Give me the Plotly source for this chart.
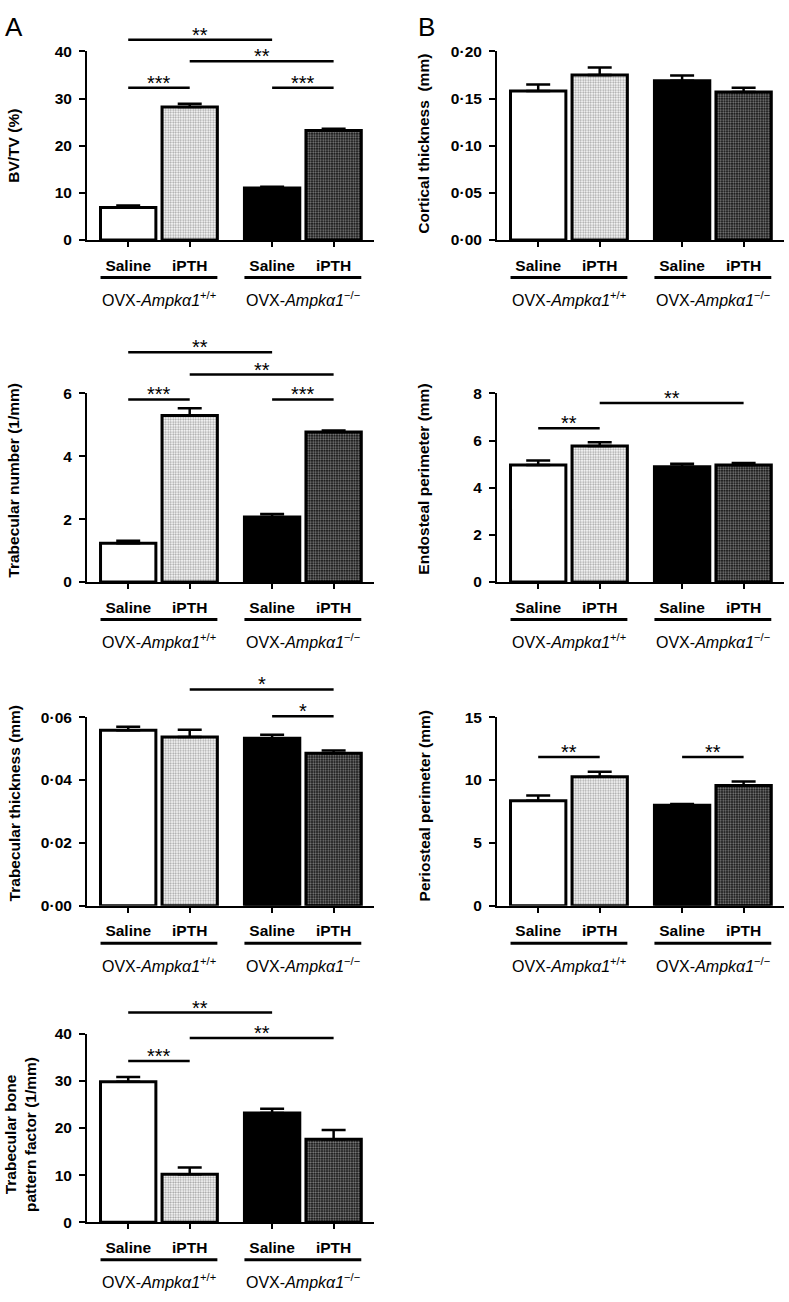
import plotly.graph_objects as go

# ---------------- data ----------------
treatments = ["Saline", "iPTH", "Saline", "iPTH"]
genotypes = ["OVX-<i>Ampkα1</i><sup>+/+</sup>", "OVX-<i>Ampkα1</i><sup>−/−</sup>"]
bar_pos = [0.0, 1.0, 2.34, 3.34]

bvtv = [6.9, 28.2, 11.0, 23.2]
bvtv_err = [0.4, 0.7, 0.3, 0.4]

cort_th = [0.158, 0.175, 0.169, 0.157]
cort_th_err = [0.007, 0.008, 0.0055, 0.0046]

tb_n = [1.23, 5.30, 2.07, 4.77]
tb_n_err = [0.08, 0.23, 0.09, 0.05]

endo = [4.96, 5.77, 4.89, 4.96]
endo_err = [0.19, 0.16, 0.12, 0.09]

tb_th = [0.0558, 0.0537, 0.0533, 0.0485]
tb_th_err = [0.0011, 0.0023, 0.0011, 0.0009]

peri = [8.35, 10.26, 7.98, 9.55]
peri_err = [0.42, 0.39, 0.11, 0.32]

tbpf = [29.8, 10.2, 23.2, 17.6]
tbpf_err = [1.0, 1.4, 0.9, 2.0]

# significance brackets: (bar i, bar j, height in data units, label)
bvtv_sig = [(0, 2, 42.5, "**"), (1, 3, 37.9, "**"), (0, 1, 32.3, "***"), (2, 3, 32.3, "***")]
tb_n_sig = [(0, 2, 7.31, "**"), (1, 3, 6.60, "**"), (0, 1, 5.81, "***"), (2, 3, 5.81, "***")]
tb_th_sig = [(1, 3, 0.0688, "*"), (2, 3, 0.0603, "*")]
tbpf_sig = [(0, 2, 44.5, "**"), (1, 3, 39.1, "**"), (0, 1, 34.2, "***")]
endo_sig = [(0, 1, 6.52, "**"), (1, 3, 7.59, "**")]
peri_sig = [(0, 1, 11.83, "**"), (2, 3, 11.83, "**")]

dec_ticks_a = [0, 10, 20, 30, 40]
cort_ticks = [0, 0.05, 0.10, 0.15, 0.20]
cort_ticktext = ["0·00", "0·05", "0·10", "0·15", "0·20"]
tb_n_ticks = [0, 2, 4, 6]
endo_ticks = [0, 2, 4, 6, 8]
tb_th_ticks = [0, 0.02, 0.04, 0.06]
tb_th_ticktext = ["0·00", "0·02", "0·04", "0·06"]
peri_ticks = [0, 5, 10, 15]

panels = [
    dict(title="BV/TV (%)", vals=bvtv, errs=bvtv_err, ymax=40, tv=dec_ticks_a,
         tt=[str(v) for v in dec_ticks_a], sig=bvtv_sig, col=0, row=0, tshift=0),
    dict(title="Cortical thickness  (mm)", vals=cort_th, errs=cort_th_err, ymax=0.20, tv=cort_ticks,
         tt=cort_ticktext, sig=[], col=1, row=0, tshift=2),
    dict(title="Trabecular number (1/mm)", vals=tb_n, errs=tb_n_err, ymax=6, tv=tb_n_ticks,
         tt=[str(v) for v in tb_n_ticks], sig=tb_n_sig, col=0, row=1, tshift=7),
    dict(title="Endosteal perimeter (mm)", vals=endo, errs=endo_err, ymax=8, tv=endo_ticks,
         tt=[str(v) for v in endo_ticks], sig=endo_sig, col=1, row=1, tshift=8),
    dict(title="Trabecular thickness (mm)", vals=tb_th, errs=tb_th_err, ymax=0.06, tv=tb_th_ticks,
         tt=tb_th_ticktext, sig=tb_th_sig, col=0, row=2, tshift=8),
    dict(title="Periosteal perimeter (mm)", vals=peri, errs=peri_err, ymax=15, tv=peri_ticks,
         tt=[str(v) for v in peri_ticks], sig=peri_sig, col=1, row=2, tshift=5),
    dict(title="Trabecular bone<br>pattern factor (1/mm)", vals=tbpf, errs=tbpf_err, ymax=40, tv=dec_ticks_a,
         tt=[str(v) for v in dec_ticks_a], sig=tbpf_sig, col=0, row=3, tshift=-7),
]

# ---------------- styling / layout ----------------
W, H = 789, 1302
FONT = "Liberation Sans, Arial, Helvetica, sans-serif"
col_axis_px = [87, 497]
row_px = [(43, 234), (389.5, 580.5), (717.5, 908.5), (1038.3, 1229.3)]
unit_px = 61.5
xr = [-0.67, 4.0]
plot_w = (xr[1] - xr[0]) * unit_px
bar_w = 0.9

fill = ["white", "white", "black", "#0c0c0c"]
pat_shape = ["", ".", "", "."]
pat_fg = ["white", "#a8a8a8", "black", "#3e3e3e"]
pat_bg = ["white", "white", "black", "#0c0c0c"]

fig = go.Figure()
layout = dict(width=W, height=H, margin=dict(l=0, r=0, t=0, b=0),
              paper_bgcolor="white", plot_bgcolor="white", showlegend=False,
              font=dict(family=FONT, color="black"), bargap=0)
shapes = []
annotations = []

for k, p in enumerate(panels, start=1):
    xa = "x" if k == 1 else f"x{k}"
    ya = "y" if k == 1 else f"y{k}"
    axpx = col_axis_px[p["col"]]
    top, bot = row_px[p["row"]]
    plot_h = bot - top

    fig.add_trace(go.Bar(
        x=bar_pos, y=p["vals"], width=bar_w, xaxis=xa, yaxis=ya,
        marker=dict(color=fill, line=dict(color="black", width=3),
                    pattern=dict(shape=pat_shape, fgcolor=pat_fg, bgcolor=pat_bg,
                                 size=2.5, solidity=0.45)),
        error_y=dict(type="data", symmetric=False, array=p["errs"], arrayminus=[0] * 4,
                     color="black", thickness=2.5, width=12),
        hoverinfo="skip",
    ))

    layout["xaxis" if k == 1 else f"xaxis{k}"] = dict(
        domain=[axpx / W, (axpx + plot_w) / W], range=xr, anchor=ya,
        tickmode="array", tickvals=bar_pos, ticktext=treatments,
        ticks="outside", ticklen=5, tickwidth=2, tickcolor="black",
        showline=True, linecolor="black", linewidth=2, showgrid=False, zeroline=False,
        tickfont=dict(family=FONT, size=15.5, color="black", weight="bold"),
        ticklabelstandoff=5, fixedrange=True)
    layout["yaxis" if k == 1 else f"yaxis{k}"] = dict(
        domain=[1 - bot / H, 1 - top / H], range=[0, p["ymax"]], anchor=xa,
        tickmode="array", tickvals=p["tv"], ticktext=p["tt"],
        ticks="outside", ticklen=6, tickwidth=2, tickcolor="black",
        showline=True, linecolor="black", linewidth=2, showgrid=False, zeroline=False,
        tickfont=dict(family=FONT, size=15.5, color="black", weight="bold"),
        ticklabelstandoff=4, fixedrange=True)

    # y title
    annotations.append(dict(
        text=p["title"], textangle=-90, xref="paper", yref=f"{ya} domain",
        x=(axpx - 73 + (7 if "<br>" in p["title"] else 0)) / W, y=0.5, yshift=p["tshift"],
        xanchor="center", yanchor="middle", showarrow=False,
        font=dict(family=FONT, size=15.5, color="black", weight="bold")))

    # genotype group underline + label
    groups_idx = [(0, 1), (2, 3)]
    for gi, (a, b) in enumerate(groups_idx):
        shapes.append(dict(type="line", xref=xa, yref=f"{ya} domain",
                           x0=bar_pos[a] - bar_w / 2, x1=bar_pos[b] + bar_w / 2,
                           y0=-38 / plot_h, y1=-38 / plot_h,
                           line=dict(color="black", width=3)))
        annotations.append(dict(
            text=genotypes[gi], xref=xa, yref=f"{ya} domain",
            x=(bar_pos[a] + bar_pos[b]) / 2, y=-60 / plot_h,
            xanchor="center", yanchor="middle", showarrow=False,
            font=dict(family=FONT, size=16, color="black")))

    # significance brackets
    for (i, j, h, lab) in p["sig"]:
        yd = h / p["ymax"]
        shapes.append(dict(type="line", xref=xa, yref=f"{ya} domain",
                           x0=bar_pos[i], x1=bar_pos[j], y0=yd, y1=yd,
                           line=dict(color="black", width=2.5)))
        annotations.append(dict(
            text=lab, xref=xa, yref=f"{ya} domain", x=(bar_pos[i] + bar_pos[j]) / 2, y=yd,
            xanchor="center", yanchor="middle", yshift=5, showarrow=False,
            font=dict(family=FONT, size=20, color="black")))

# panel letters
annotations.append(dict(text="A", xref="paper", yref="paper", x=3 / W, y=1 - 1 / H,
                        xanchor="left", yanchor="top", showarrow=False,
                        font=dict(family=FONT, size=26, color="black")))
annotations.append(dict(text="B", xref="paper", yref="paper", x=416 / W, y=1 - 1 / H,
                        xanchor="left", yanchor="top", showarrow=False,
                        font=dict(family=FONT, size=26, color="black")))

layout["shapes"] = shapes
layout["annotations"] = annotations
fig.update_layout(**layout)
fig.write_html("out.html", config={"displayModeBar": False, "staticPlot": True},
               post_script="document.body.style.margin='0px';document.body.style.overflow='hidden';")
